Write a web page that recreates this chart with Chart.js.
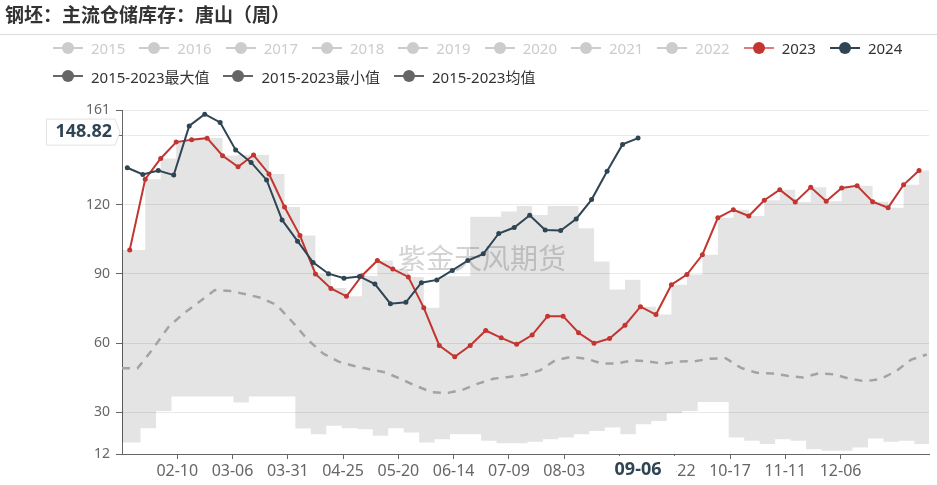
<!DOCTYPE html>
<html>
<head>
<meta charset="utf-8">
<script src="https://cdn.jsdelivr.net/npm/chart.js@4.4.1/dist/chart.umd.min.js"></script>
<style>
  body { margin: 0; background: #fff; }
  #wrap { position: relative; width: 937px; height: 485px; overflow: hidden; font-family: "Noto Sans", "Noto Sans CJK SC", sans-serif; }
  #chart { position: absolute; left: 0; top: 0; }
  #title { position: absolute; left: 5px; top: 0; height: 34px; line-height: 34px; font: bold 19px "Noto Sans CJK SC", sans-serif; color: #333; }
  #rule { position: absolute; left: 0; top: 34px; width: 937px; height: 1px; background: #dcdcdc; }
  #legend { position: absolute; left: 53px; top: 34px; width: 880px; }
  .row { display: flex; height: 28px; align-items: center; }
  .item { display: flex; align-items: center; margin-right: 14px; font-size: 15px; white-space: nowrap; }
  .icon { position: relative; width: 30px; height: 12px; margin-right: 8px; }
  .icon .ln { position: absolute; left: 0; right: 0; top: 5px; height: 2px; }
  .icon .dot { position: absolute; left: 9px; top: 0; width: 12px; height: 12px; border-radius: 50%; }
</style>
</head>
<body>
<div id="wrap">
  <canvas id="chart" width="937" height="485"></canvas>
  <div id="title">钢坯：主流仓储库存：唐山（周）</div>
  <div id="rule"></div>
  <div id="legend"></div>
</div>
<script>
// legend entries
const fadedYears = ["2015", "2016", "2017", "2018", "2019", "2020", "2021", "2022"];
const bandNames = ["2015-2023最大值", "2015-2023最小值", "2015-2023均值"];

// x axis tick labels (weekly category axis, one label every 25 slots)
const xTickLabels = ["02-10", "03-06", "03-31", "04-25", "05-20", "06-14", "07-09",
  "08-03", "08-28", "09-22", "10-17", "11-11", "12-06"];
const xTickSlots = [25, 50, 75, 100, 125, 150, 175, 200, 225, 250, 275, 300, 325];
const yTicks = [12, 30, 60, 90, 120, 150, 161];

// weekly series
const v2023 = [100.4, 131.0, 140.0, 147.1, 148.1, 148.8, 141.2, 136.4, 141.5, 133.3,
  119.0, 106.6, 90.0, 83.7, 80.3, 89.2, 95.8, 92.1, 88.7, 75.3,
  59.0, 54.1, 59.0, 65.5, 62.3, 59.5, 63.5, 71.7, 71.7, 64.5,
  60.0, 62.0, 67.8, 75.8, 72.4, 85.3, 89.7, 98.3, 114.3, 117.8,
  115.1, 121.9, 126.5, 121.2, 127.5, 121.5, 127.2, 128.2, 121.3, 118.7,
  128.6, 134.8];
const v2024 = [136.0, 133.1, 134.8, 132.8, 154.1, 159.2, 155.6, 143.7, 138.3, 130.7,
  113.4, 104.2, 95.0, 90.1, 88.1, 88.9, 85.6, 77.1, 77.7, 86.2,
  87.4, 91.5, 95.8, 98.7, 107.5, 110.1, 115.4, 109.0, 108.8, 113.8,
  122.2, 134.5, 146.1, 148.82];
const maxBand = [100.4, 131.0, 140.0, 147.2, 148.1, 148.9, 141.3, 141.5, 141.5, 133.3,
  119.0, 106.6, 90.1, 83.9, 80.3, 89.2, 95.8, 92.1, 88.7, 75.3,
  89.0, 89.0, 114.8, 114.8, 117.0, 119.4, 115.5, 119.4, 119.4, 109.8,
  95.4, 83.2, 87.5, 75.8, 72.4, 85.3, 89.7, 98.3, 114.3, 117.8,
  115.1, 121.9, 126.5, 121.2, 127.5, 121.5, 127.2, 128.2, 121.3, 118.7,
  128.6, 134.8];
const minBand = [17.0, 23.2, 30.6, 36.9, 36.9, 36.9, 36.9, 34.3, 36.9, 36.9,
  36.9, 23.0, 20.6, 24.2, 23.2, 22.7, 19.9, 23.2, 21.3, 17.0,
  18.4, 20.6, 20.6, 17.7, 16.7, 16.7, 17.3, 18.4, 19.2, 20.6,
  22.0, 23.5, 20.6, 24.9, 26.3, 29.7, 30.6, 34.5, 34.5, 19.2,
  17.7, 16.3, 18.4, 17.7, 14.1, 13.4, 13.4, 14.8, 18.7, 17.3,
  17.7, 16.3];
const avgLine = [49.1, 49.1, 57.6, 67.0, 73.0, 77.9, 83.0, 82.6, 81.2, 79.6,
  76.5, 69.3, 61.5, 55.5, 52.0, 50.1, 48.7, 47.4, 44.5, 41.5,
  38.8, 38.4, 39.8, 42.5, 44.6, 45.4, 46.2, 48.2, 52.6, 54.0,
  53.3, 51.2, 51.2, 52.6, 52.1, 51.1, 52.1, 52.2, 53.3, 53.5,
  49.3, 47.2, 46.9, 45.9, 45.1, 46.9, 46.5, 44.6, 43.5, 44.5,
  47.8, 52.9, 55.1];

// where each weekly series starts on the slot axis
const first2023 = 3.5, first2024 = 2.4, firstMin = 1.4, firstAvg = 0;
const lastSlot = 365;
const hoverLabel = "09-06";
const watermark = "紫金天风期货";

const C2023 = "#c23531", C2024 = "#2f4554", CBAND = "#666666", CFADED = "#cccccc";

function weekly(vals, first) {
  return vals.map((y, i) => ({ x: first + 7 * i, y: y }));
}
function padded(vals, first) {
  return [{ x: 0, y: vals[0] }, ...weekly(vals, first), { x: lastSlot, y: vals[vals.length - 1] }];
}

// html legend
const legend = document.querySelector("#legend");
function legendRow(items) {
  const row = document.createElement("div");
  row.className = "row";
  for (const it of items) {
    const el = document.createElement("div");
    el.className = "item";
    el.innerHTML = '<div class="icon"><div class="ln"></div><div class="dot"></div></div><span></span>';
    el.querySelector(".ln").style.background = it.line || it.color;
    el.querySelector(".dot").style.background = it.color;
    el.querySelector("span").textContent = it.name;
    el.querySelector("span").style.color = it.text;
    row.appendChild(el);
  }
  legend.appendChild(row);
}
legendRow([
  ...fadedYears.map((y) => ({ name: y, color: CFADED, text: CFADED })),
  { name: "2023", color: C2023, line: "#e07b78", text: "#333" },
  { name: "2024", color: C2024, text: "#333" },
]);
legendRow(bandNames.map((n) => ({ name: n, color: CBAND, text: "#333" })));

const overlay = {
  id: "overlay",
  beforeDatasetsDraw(chart) {
    const { ctx, chartArea: a } = chart;
    ctx.save();
    ctx.font = '28px "Noto Sans CJK SC"';
    ctx.fillStyle = "rgba(150,150,150,0.42)";
    ctx.textAlign = "center";
    ctx.textBaseline = "middle";
    ctx.fillText(watermark, a.left + (a.right - a.left) * 0.446, a.top + (a.bottom - a.top) * 0.43);
    ctx.restore();
  },
  afterDraw(chart) {
    const { ctx, chartArea: a } = chart;
    const xs = chart.scales.x, ys = chart.scales.y;
    const lastX = first2024 + 7 * (v2024.length - 1);
    const lastY = v2024[v2024.length - 1];
    const px = xs.getPixelForValue(lastX);
    // the pointer label sits a little above the hovered point
    const py = ys.getPixelForValue(lastY) - 6;
    ctx.save();
    ctx.font = 'bold 18px "Noto Sans", sans-serif';
    ctx.textBaseline = "middle";
    // x pointer label
    let w = ctx.measureText(hoverLabel).width + 30;
    ctx.fillStyle = "#fff";
    ctx.fillRect(px - w / 2 - 6, a.bottom + 2, w + 6, 29);
    ctx.fillStyle = C2024;
    ctx.textAlign = "center";
    ctx.fillText(hoverLabel, px, a.bottom + 16);
    // y pointer label
    const txt = lastY.toFixed(2);
    w = ctx.measureText(txt).width + 12;
    const right = a.left - 7;
    ctx.beginPath();
    ctx.moveTo(right - w, py - 13);
    ctx.lineTo(right, py - 13);
    ctx.lineTo(right + 5, py);
    ctx.lineTo(right, py + 13);
    ctx.lineTo(right - w, py + 13);
    ctx.closePath();
    ctx.fillStyle = "#fff";
    ctx.fill();
    ctx.strokeStyle = "#e2e2e2";
    ctx.lineWidth = 1;
    ctx.stroke();
    ctx.fillStyle = C2024;
    ctx.textAlign = "right";
    ctx.fillText(txt, right - 3, py);
    ctx.restore();
  },
};

new Chart(document.querySelector("#chart"), {
  type: "line",
  data: {
    datasets: [
      {
        label: "2024",
        data: weekly(v2024, first2024),
        borderColor: C2024,
        backgroundColor: C2024,
        borderWidth: 2,
        pointRadius: 2.5,
        pointBorderWidth: 0,
        fill: false,
      },
      {
        label: "2023",
        data: weekly(v2023, first2023),
        borderColor: C2023,
        backgroundColor: C2023,
        borderWidth: 2,
        pointRadius: 2.5,
        pointBorderWidth: 0,
        fill: false,
      },
      {
        label: bandNames[2],
        data: weekly(avgLine, firstAvg),
        borderColor: "#a3a3a3",
        borderDash: [8, 7],
        borderWidth: 2.5,
        pointRadius: 0,
        fill: false,
      },
      {
        label: bandNames[0],
        data: padded(maxBand, first2023),
        borderWidth: 0,
        pointRadius: 0,
        stepped: "before",
        backgroundColor: "rgba(0,0,0,0.105)",
        fill: { target: 4 },
      },
      {
        label: bandNames[1],
        data: padded(minBand, firstMin),
        borderWidth: 0,
        pointRadius: 0,
        stepped: "before",
        fill: false,
      },
    ],
  },
  plugins: [overlay],
  options: {
    responsive: false,
    animation: false,
    events: [],
    layout: { padding: { top: 110, right: 8, left: 0, bottom: 0 } },
    plugins: {
      legend: { display: false },
      tooltip: { enabled: false },
    },
    scales: {
      x: {
        type: "linear",
        min: 0,
        max: lastSlot,
        afterBuildTicks: (axis) => {
          axis.ticks = xTickSlots.map((v) => ({ value: v }));
        },
        afterFit: (axis) => {
          axis.height = 31;
        },
        ticks: {
          autoSkip: false,
          maxRotation: 0,
          padding: 3,
          color: "#666",
          font: { family: "Noto Sans", size: 16 },
          callback: (value, index) => xTickLabels[index],
        },
        grid: { drawOnChartArea: false, tickLength: 5, tickColor: "#666" },
        border: { color: "#666", width: 1 },
      },
      y: {
        min: 12,
        max: 161,
        afterBuildTicks: (axis) => {
          axis.ticks = yTicks.map((v) => ({ value: v }));
        },
        afterFit: (axis) => {
          axis.width = 122;
        },
        ticks: {
          padding: 6,
          color: "#666",
          font: { family: "Noto Sans", size: 14 },
        },
        grid: { color: "#e9e9e9", tickLength: 6, tickColor: "#666" },
        border: { color: "#666", width: 1 },
      },
    },
  },
});
</script>
</body>
</html>
